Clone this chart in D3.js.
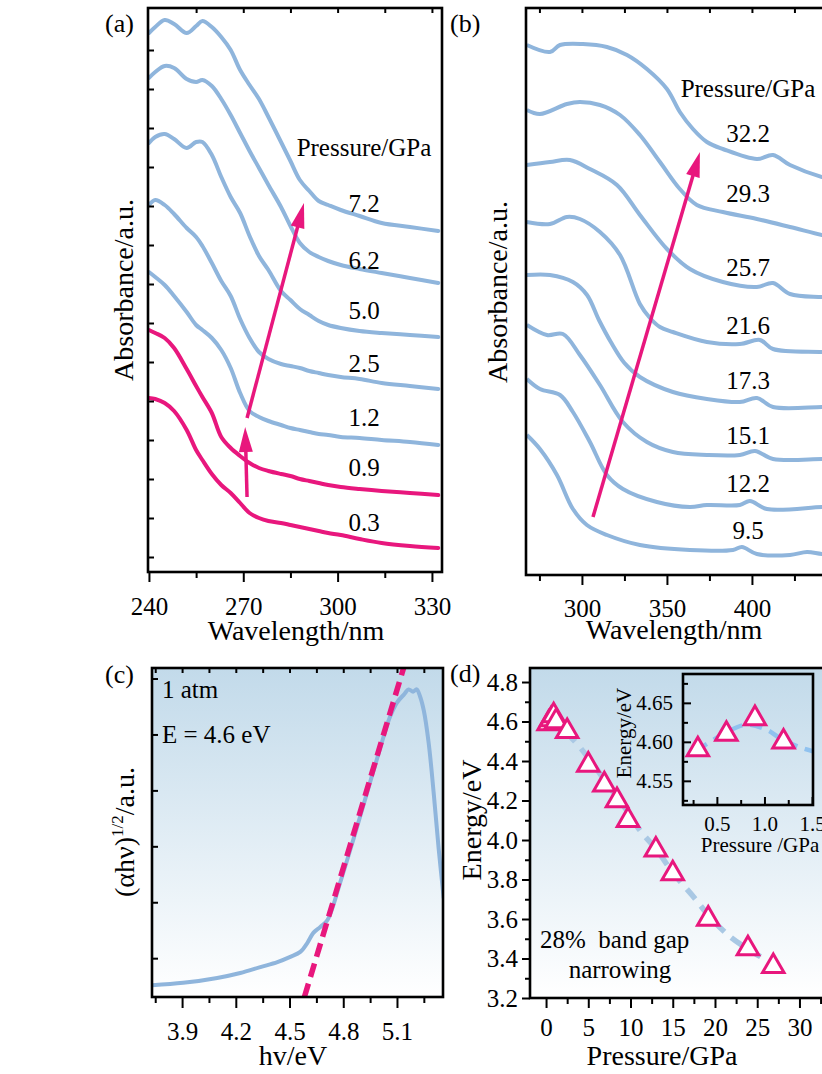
<!DOCTYPE html>
<meta charset="utf-8">
<script src="https://cdn.jsdelivr.net/npm/d3@7"></script>
<style>
  body { margin: 0; background: #fff; }
  text { fill: #000; }
</style>
<body>
<div id="chart"></div>
<script>
// ---------- data ----------

// (a) absorbance spectra, 0.3 - 7.2 GPa (offset, a.u.)
var waveA = [240,242,245,248,252,255,257,260,263,266,269,272,275,278,282,285,288,291,294,297,301,307,314,323,332];
var abs72 = [5.39,5.45,5.52,5.48,5.39,5.46,5.51,5.45,5.35,5.22,5.02,4.87,4.73,4.55,4.30,4.11,3.92,3.81,3.71,3.67,3.62,3.56,3.49,3.45,3.41];
var abs62 = [4.94,5.00,5.06,5.04,4.93,4.90,4.92,4.86,4.73,4.57,4.39,4.21,4.04,3.87,3.65,3.46,3.29,3.20,3.15,3.11,3.07,3.03,2.99,2.94,2.89];
var abs50 = [4.29,4.35,4.38,4.33,4.24,4.30,4.30,4.17,3.95,3.75,3.59,3.36,3.16,3.02,2.81,2.72,2.63,2.57,2.51,2.47,2.44,2.41,2.39,2.37,2.35];
var abs25 = [3.67,3.72,3.67,3.58,3.44,3.35,3.26,3.09,2.91,2.76,2.53,2.34,2.20,2.13,2.08,2.06,2.04,2.01,1.99,1.97,1.95,1.93,1.89,1.86,1.83];
var abs12 = [3.00,2.95,2.87,2.76,2.60,2.47,2.42,2.34,2.22,2.04,1.79,1.61,1.55,1.51,1.47,1.44,1.42,1.40,1.38,1.37,1.35,1.34,1.32,1.30,1.27];
var abs09 = [2.42,2.39,2.34,2.24,2.03,1.86,1.75,1.59,1.35,1.24,1.16,1.09,1.04,1.01,0.98,0.96,0.93,0.91,0.89,0.87,0.85,0.83,0.81,0.79,0.77];
var abs03 = [1.74,1.73,1.69,1.61,1.42,1.22,1.12,0.98,0.87,0.79,0.69,0.59,0.54,0.51,0.49,0.47,0.45,0.43,0.41,0.39,0.37,0.33,0.29,0.26,0.24];
var pressA = ["7.2","6.2","5.0","2.5","1.2","0.9","0.3"];

// (b) absorbance spectra, 9.5 - 32.2 GPa, [wavelength, a.u.]
var spec322 = [[267.6,5.30],[281.2,5.23],[287.1,5.30],[300.6,5.31],[314.7,5.28],[326.5,5.20],[338.2,5.06],[350,4.86],[357.6,4.63],[365.3,4.46],[373.5,4.33],[382.9,4.26],[402.9,4.16],[412.4,4.20],[422.4,4.10],[441.2,3.98],[450,3.95]];
var spec293 = [[267.6,4.65],[275.3,4.61],[291.2,4.71],[298.8,4.73],[310.6,4.70],[322.4,4.60],[334.1,4.40],[345.9,4.13],[357.6,3.86],[367.6,3.70],[382.9,3.63],[402.9,3.56],[422.4,3.48],[441.2,3.40],[450,3.37]];
var spec257 = [[267.6,4.10],[281.2,4.13],[292.9,4.15],[304.7,4.06],[320.6,3.90],[334.1,3.60],[350,3.26],[363.5,3.06],[382.9,2.93],[402.9,2.88],[412.4,2.92],[422.4,2.81],[441.2,2.78],[450,2.77]];
var spec216 = [[267.6,3.53],[281.2,3.51],[291.2,3.58],[298.8,3.56],[310.6,3.43],[322.4,3.20],[334.1,2.71],[340,2.57],[345.9,2.48],[353.5,2.43],[373.5,2.33],[392.9,2.31],[404.7,2.35],[412.4,2.26],[441.2,2.23],[450,2.22]];
var spec173 = [[267.6,3.00],[281.2,3.00],[294.7,2.93],[303,2.80],[310,2.55],[317,2.33],[325,2.12],[334.1,1.98],[353.5,1.83],[373.5,1.76],[392.9,1.73],[402.9,1.77],[412.4,1.68],[441.2,1.68],[450,1.68]];
var spec151 = [[267.6,2.50],[279.4,2.40],[288.8,2.41],[298.8,2.20],[310.6,1.90],[324.1,1.53],[338.2,1.33],[353.5,1.23],[373.5,1.20],[392.9,1.20],[401.8,1.24],[412.4,1.16],[441.2,1.16],[450,1.16]];
var spec122 = [[267.6,1.96],[275.3,1.86],[287.1,1.80],[294.7,1.63],[304.7,1.33],[314.7,1.00],[324.1,0.86],[344.1,0.73],[363.5,0.68],[373.5,0.70],[392.9,0.70],[398.8,0.74],[408.8,0.66],[441.2,0.68],[450,0.68]];
var spec95  = [[267.6,1.40],[275.3,1.26],[285.3,1.00],[294.7,0.66],[302.9,0.50],[314.7,0.40],[334.1,0.30],[363.5,0.25],[388.8,0.25],[394.1,0.28],[402.9,0.21],[422.4,0.20],[432.4,0.23],[441.2,0.21],[450,0.21]];
var pressB = ["32.2","29.3","25.7","21.6","17.3","15.1","12.2","9.5"];

// (c) Tauc plot at 1 atm
var hvC  = [3.732,3.906,4.096,4.225,4.337,4.432,4.504,4.560,4.599,4.633,4.672,4.712,4.784,4.857,4.935,5.008,5.060,5.100,5.140,5.165,5.190,5.210,5.228,5.250,5.277,5.305,5.333,5.361];
var tauc = [0.036,0.043,0.058,0.073,0.091,0.106,0.122,0.137,0.164,0.195,0.213,0.234,0.350,0.480,0.625,0.760,0.850,0.895,0.920,0.935,0.928,0.935,0.915,0.870,0.772,0.620,0.450,0.300];
var fitHv = [4.583,5.137];
var fitTa = [0,1];

// (d) band gap vs pressure
var pressD = [0.3,0.6,0.9,1.2,2.5,5.0,6.9,8.4,9.7,13.0,15.0,19.2,23.9,26.9];
var gapD   = [4.59,4.61,4.63,4.60,4.55,4.38,4.28,4.20,4.10,3.95,3.83,3.60,3.45,3.36];
var trendP = [0.1,2.45,5.21,7.19,9.56,11.1,13.1,15.1,17.5,19.4,21.8,24.2,26.5,27.1];
var trendE = [4.60,4.54,4.405,4.287,4.15,4.05,3.95,3.83,3.71,3.61,3.51,3.44,3.38,3.36];
var insetP = [0.3,0.6,0.9,1.2];
var insetE = [4.59,4.61,4.63,4.60];
var insetTrendP = [0.29,0.61,0.82,1.03,1.16,1.37,1.51];
var insetTrendE = [4.589,4.613,4.622,4.615,4.605,4.593,4.588];

// ---------- drawing ----------
var FONT = '"Liberation Serif","Times New Roman",serif';
var PINK = "#e8177d", BLUE = "#8fb5dc";

var svg = d3.select("#chart").append("svg")
    .attr("width", 822).attr("height", 1074)
    .style("font-family", FONT);

var defs = svg.append("defs");
var grad = defs.append("linearGradient").attr("id", "bg")
    .attr("x1", 0).attr("y1", 0).attr("x2", 0).attr("y2", 1);
grad.append("stop").attr("offset", "0%").attr("stop-color", "#c2daea");
grad.append("stop").attr("offset", "100%").attr("stop-color", "#ffffff");

function clip(id, x0, y0, w, h) {
  defs.append("clipPath").attr("id", id).append("rect")
    .attr("x", x0).attr("y", y0).attr("width", w).attr("height", h);
  return "url(#" + id + ")";
}

function ticks(axisFn, scale, tx, ty, values, size, fmt, fs) {
  var a = svg.append("g").attr("transform", "translate(" + tx + "," + ty + ")")
    .call(axisFn(scale).tickValues(values).tickSize(size).tickSizeOuter(0).tickFormat(fmt || ""));
  a.select(".domain").remove();
  a.attr("font-family", FONT).attr("font-size", fs || 25);
  a.selectAll("line").attr("stroke", "#000").attr("stroke-width", 2);
  a.selectAll("text").attr("fill", "#000");
  return a;
}

function frame(x0, y0, w, h, fill) {
  svg.append("rect").attr("x", x0).attr("y", y0).attr("width", w).attr("height", h)
    .attr("fill", fill || "none").attr("stroke", "#000").attr("stroke-width", 2.6);
}

function arrow(g, x1, y1, x2, y2) {
  var dx = x2 - x1, dy = y2 - y1, L = Math.sqrt(dx * dx + dy * dy);
  var ux = dx / L, uy = dy / L, hl = 25, hw = 7;
  var bx = x2 - ux * hl, by = y2 - uy * hl;
  g.append("line").attr("x1", x1).attr("y1", y1).attr("x2", bx + ux * 2).attr("y2", by + uy * 2)
    .attr("stroke", PINK).attr("stroke-width", 3.5);
  g.append("path")
    .attr("d", "M" + x2 + "," + y2 + "L" + (bx - uy * hw) + "," + (by + ux * hw) +
               "L" + (bx + uy * hw) + "," + (by - ux * hw) + "Z")
    .attr("fill", PINK);
}

function label(x, y, str, fs, anchor, rot) {
  var t = svg.append("text").attr("font-size", fs).attr("text-anchor", anchor || "middle").text(str);
  if (rot) t.attr("transform", "translate(" + x + "," + y + ") rotate(-90)");
  else t.attr("x", x).attr("y", y);
  return t;
}

// ===== panel (a) =====
var xa = d3.scaleLinear().domain([239.7, 333.2]).range([148, 442]);
var ya = d3.scaleLinear().domain([0, 5.64]).range([572, 8]);
var lineA = d3.line().curve(d3.curveCatmullRom.alpha(0.5))
    .x(function (d) { return xa(d[0]); }).y(function (d) { return ya(d[1]); });
var gA = svg.append("g").attr("clip-path", clip("ca", 148, 8, 294, 564));
[abs72, abs62, abs50, abs25, abs12, abs09, abs03].forEach(function (vals, i) {
  gA.append("path").datum(waveA.map(function (w, j) { return [w, vals[j]]; }))
    .attr("d", lineA).attr("fill", "none")
    .attr("stroke", i >= 5 ? PINK : BLUE).attr("stroke-width", 4)
    .attr("stroke-linejoin", "round").attr("stroke-linecap", "round");
});
var labYA = [212, 269, 319, 372, 426, 476, 531];
pressA.forEach(function (p, i) { label(364, labYA[i], p, 25); });
label(364, 156, "Pressure/GPa", 25);
arrow(svg, xa(271.2), ya(1.54), xa(289.3), ya(3.69));
arrow(svg, xa(271.2), ya(0.75), xa(270.6), ya(1.45));

ticks(d3.axisBottom, xa, 0, 572, [240, 270, 300, 330], 10, d3.format("d"))
  .selectAll("text").attr("dy", null).attr("y", 43);
ticks(d3.axisBottom, xa, 0, 572, [255, 285, 315], 6);
ticks(d3.axisTop, xa, 0, 8, [255, 270, 285, 300, 315, 330], -5);
ticks(d3.axisLeft, ya, 148, 0, d3.range(0.15, 5.6, 0.39), -6);
frame(148, 8, 294, 564);
label(296, 640, "Wavelength/nm", 28);
label(133, 290, "Absorbance/a.u.", 28, "middle", true);
label(105, 32, "(a)", 26, "start");

// ===== panel (b) =====
var xb = d3.scaleLinear().domain([267.1, 451.8]).range([526, 840]);
var yb = d3.scaleLinear().domain([0, 5.67]).range([575, 8]);
var lineB = d3.line().curve(d3.curveCatmullRom.alpha(0.5))
    .x(function (d) { return xb(d[0]); }).y(function (d) { return yb(d[1]); });
var gB = svg.append("g").attr("clip-path", clip("cb", 526, 8, 314, 567));
[spec322, spec293, spec257, spec216, spec173, spec151, spec122, spec95].forEach(function (s) {
  gB.append("path").datum(s).attr("d", lineB).attr("fill", "none")
    .attr("stroke", BLUE).attr("stroke-width", 4).attr("stroke-linejoin", "round");
});
var labYB = [142, 202, 276, 334, 389, 444, 492, 539];
pressB.forEach(function (p, i) { label(748, labYB[i], p, 25); });
label(748, 97, "Pressure/GPa", 25);
arrow(svg, xb(306.5), yb(0.58), xb(369.4), yb(4.23));

ticks(d3.axisBottom, xb, 0, 575, [300, 350, 400], 10, d3.format("d"))
  .selectAll("text").attr("dy", null).attr("y", 42);
ticks(d3.axisBottom, xb, 0, 575, [275, 325, 375, 425], 6);
ticks(d3.axisTop, xb, 0, 8, [275, 300, 325, 350, 375, 400, 425], -5);
frame(526, 8, 314, 567);
label(674, 639, "Wavelength/nm", 28);
label(507, 292, "Absorbance/a.u.", 28, "middle", true);
label(450, 32, "(b)", 26, "start");

// ===== panel (c) =====
var xc = d3.scaleLinear().domain([3.732, 5.357]).range([152, 443]);
var yc = d3.scaleLinear().domain([0, 1]).range([997, 668]);
svg.append("rect").attr("x", 152).attr("y", 668).attr("width", 291).attr("height", 329).attr("fill", "url(#bg)");
var gC = svg.append("g").attr("clip-path", clip("cc", 152, 668, 291, 329));
gC.append("path").datum(hvC.map(function (h, j) { return [h, tauc[j]]; }))
  .attr("d", d3.line().curve(d3.curveCatmullRom.alpha(0.5))
    .x(function (d) { return xc(d[0]); }).y(function (d) { return yc(d[1]); }))
  .attr("fill", "none").attr("stroke", BLUE).attr("stroke-width", 4).attr("stroke-linejoin", "round");
gC.append("line")
  .attr("x1", xc(fitHv[0])).attr("y1", yc(fitTa[0])).attr("x2", xc(fitHv[1])).attr("y2", yc(fitTa[1]))
  .attr("stroke", PINK).attr("stroke-width", 5.5).attr("stroke-dasharray", "14,7");

ticks(d3.axisBottom, xc, 0, 997, [3.9, 4.2, 4.5, 4.8, 5.1], 11, d3.format(".1f"))
  .selectAll("text").attr("dy", null).attr("y", 43);
ticks(d3.axisBottom, xc, 0, 997, [3.75, 4.05, 4.35, 4.65, 4.95, 5.25], 6);
ticks(d3.axisTop, xc, 0, 668, [3.75, 3.9, 4.05, 4.2, 4.35, 4.5, 4.65, 4.8, 4.95, 5.1, 5.25], -5);
ticks(d3.axisLeft, yc, 152, 0, d3.range(0.118, 1, 0.17), -6);
frame(152, 668, 291, 329);
label(162, 698, "1 atm", 25, "start");
label(162, 743, "E = 4.6 eV", 25, "start");
label(293, 1065, "hv/eV", 28);
var yl = label(134, 832, "", 28, "middle", true);
yl.append("tspan").text("(αhν)");
yl.append("tspan").attr("dy", -11).attr("font-size", 17).text("1/2");
yl.append("tspan").attr("dy", 11).text("/a.u.");
label(105, 683, "(c)", 26, "start");

// ===== panel (d) =====
var xd = d3.scaleLinear().domain([-1.9, 34.8]).range([530, 840]);
var yd = d3.scaleLinear().domain([3.2, 4.871]).range([998, 668]);
svg.append("rect").attr("x", 530).attr("y", 668).attr("width", 310).attr("height", 330).attr("fill", "url(#bg)");
var gD = svg.append("g").attr("clip-path", clip("cd", 530, 668, 310, 330));
gD.append("path").datum(trendP.map(function (p, j) { return [p, trendE[j]]; }))
  .attr("d", d3.line().curve(d3.curveCatmullRom.alpha(0.5))
    .x(function (d) { return xd(d[0]); }).y(function (d) { return yd(d[1]); }))
  .attr("fill", "none").attr("stroke", "#a9c8e4").attr("stroke-width", 5.5).attr("stroke-dasharray", "13,9");
var tri = d3.symbol().type(d3.symbolTriangle).size(200);
gD.selectAll(".tri").data(pressD).join("path")
  .attr("transform", function (p, j) { return "translate(" + xd(p) + "," + yd(gapD[j]) + ")"; })
  .attr("d", tri).attr("fill", "#fff").attr("stroke", PINK).attr("stroke-width", 3);

ticks(d3.axisBottom, xd, 0, 998, [0, 5, 10, 15, 20, 25, 30], 10, d3.format("d"))
  .selectAll("text").attr("dy", null).attr("y", 38);
ticks(d3.axisBottom, xd, 0, 998, [2.5, 7.5, 12.5, 17.5, 22.5, 27.5, 32.5], 6);
ticks(d3.axisLeft, yd, 530, 0, [3.2, 3.4, 3.6, 3.8, 4.0, 4.2, 4.4, 4.6, 4.8], 8, d3.format(".1f"))
  .selectAll("text").attr("x", -12);
ticks(d3.axisLeft, yd, 530, 0, [3.3, 3.5, 3.7, 3.9, 4.1, 4.3, 4.5, 4.7], 5);
frame(530, 668, 310, 330);
svg.append("text").attr("x", 540).attr("y", 948).attr("font-size", 25)
  .style("white-space", "pre").text("28%  band gap");
label(620, 978, "narrowing", 25);
label(662, 1065, "Pressure/GPa", 28);
label(481, 820, "Energy/eV", 28, "middle", true);
label(450, 682, "(d)", 26, "start");

// inset
var xi = d3.scaleLinear().domain([0.144, 1.51]).range([683, 813]);
var yi = d3.scaleLinear().domain([4.519, 4.687]).range([805, 674]);
var gI = svg.append("g").attr("clip-path", clip("ci", 683, 674, 130, 131));
gI.append("path").datum(insetTrendP.map(function (p, j) { return [p, insetTrendE[j]]; }))
  .attr("d", d3.line().curve(d3.curveCatmullRom.alpha(0.5))
    .x(function (d) { return xi(d[0]); }).y(function (d) { return yi(d[1]); }))
  .attr("fill", "none").attr("stroke", "#90c2ef").attr("stroke-width", 4.5).attr("stroke-dasharray", "12,8");
gI.selectAll(".tri").data(insetP).join("path")
  .attr("transform", function (p, j) { return "translate(" + xi(p) + "," + yi(insetE[j]) + ")"; })
  .attr("d", tri).attr("fill", "#fff").attr("stroke", PINK).attr("stroke-width", 3);
ticks(d3.axisBottom, xi, 0, 805, [0.5, 1.0, 1.5], -8, d3.format(".1f"), 21)
  .selectAll("text").attr("dy", null).attr("y", 26);
ticks(d3.axisBottom, xi, 0, 805, [0.25, 0.75, 1.25], -5);
ticks(d3.axisLeft, yi, 683, 0, [4.55, 4.60, 4.65], -8, d3.format(".2f"), 21)
  .selectAll("text").attr("x", -10);
ticks(d3.axisLeft, yi, 683, 0, [4.525, 4.575, 4.625, 4.675], -5);
frame(683, 674, 130, 131);
label(760, 852, "Pressure /GPa", 21);
label(631, 733, "Energy/eV", 21, "middle", true);
</script>
</body>
